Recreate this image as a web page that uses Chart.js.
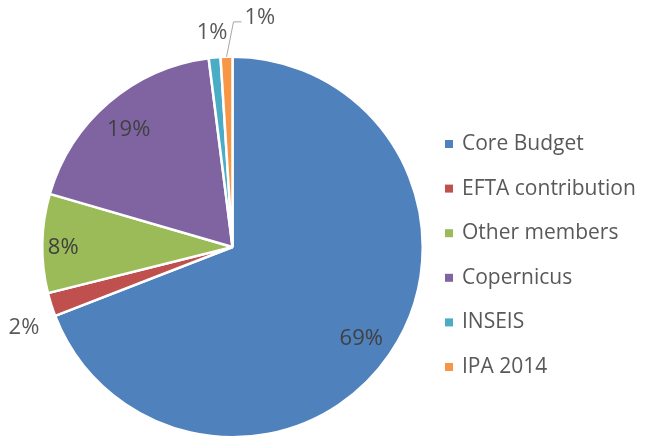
<!DOCTYPE html>
<html><head><meta charset="utf-8">
<script src="https://cdn.jsdelivr.net/npm/chart.js@4"></script>
<style>html,body{margin:0;padding:0;background:#fff;}#wrap{width:657px;height:439px;position:relative;}</style>
</head><body><div id="wrap"><canvas id="c" width="657" height="439"></canvas></div>
<script>
const categories = ["Core Budget","EFTA contribution","Other members","Copernicus","INSEIS","IPA 2014"];
const values = [69.1, 2.0, 8.4, 18.5, 1.0, 1.0];
const pctLabels = ["69%","2%","8%","19%","1%","1%"];
const colors = ["#4F81BD","#C0504D","#9BBB59","#8064A2","#4BACC6","#F79646"];
// label placement: radius factor (relative to outer radius) or outside with leader
const labelRadius = [0.82, 1.15, 0.89, 0.84, 1.14, null];
const labelShiftY = [4, 14, 4, 4, 2, 0];
const labelColors = ["#404040","#595959","#404040","#404040","#595959","#595959"];

const FONT = "'Open Sans', Lato, sans-serif";
const TXT = "#595959";

const labelPlugin = {
  id:'pctLabels',
  afterDatasetsDraw(chart){
    const ctx = chart.ctx;
    const meta = chart.getDatasetMeta(0);
    ctx.save();
    ctx.font = "22px " + FONT;
    ctx.textAlign = 'center';
    ctx.textBaseline = 'middle';
    meta.data.forEach((arc,i)=>{
      const a = (arc.startAngle + arc.endAngle)/2;
      const r = arc.outerRadius;
      ctx.fillStyle = labelColors[i];
      if (labelRadius[i] !== null) {
        const x = arc.x + Math.cos(a)*r*labelRadius[i];
        const y = arc.y + Math.sin(a)*r*labelRadius[i] + labelShiftY[i];
        ctx.fillText(pctLabels[i], x, y);
      } else {
        const x0 = arc.x + Math.cos(a)*r;
        const y0 = arc.y + Math.sin(a)*r;
        const x1 = x0 + 7, y1 = y0 - 35;
        ctx.strokeStyle = "#A6A6A6";
        ctx.lineWidth = 1;
        ctx.beginPath();
        ctx.moveTo(x0, y0); ctx.lineTo(x1, y1); ctx.lineTo(x1+8, y1);
        ctx.stroke();
        ctx.textAlign = 'left';
        ctx.fillText(pctLabels[i], x1+11, y1-4);
        ctx.textAlign = 'center';
      }
    });
    ctx.restore();
  }
};

const legendPlugin = {
  id:'customLegend',
  afterDraw(chart){
    const ctx = chart.ctx;
    ctx.save();
    ctx.font = "21px " + FONT;
    ctx.textBaseline = 'middle';
    ctx.textAlign = 'left';
    const x0 = 445, y0 = 144, dy = 44.6;
    categories.forEach((c,i)=>{
      const y = y0 + i*dy;
      ctx.fillStyle = colors[i];
      ctx.fillRect(x0, y-4, 8, 8);
      ctx.fillStyle = TXT;
      ctx.fillText(c, x0+17, y);
    });
    ctx.restore();
  }
};

new Chart(document.getElementById('c'), {
  type:'pie',
  data:{ labels:categories, datasets:[{ data:values, backgroundColor:colors, borderColor:'#fff', borderWidth:2.5, hoverOffset:0 }]},
  options:{
    responsive:false, animation:false,
    layout:{ padding:{ left:41, top:55, right:233, bottom:0 } },
    plugins:{ legend:{display:false}, tooltip:{enabled:false} }
  },
  plugins:[labelPlugin, legendPlugin]
});
</script></body></html>
